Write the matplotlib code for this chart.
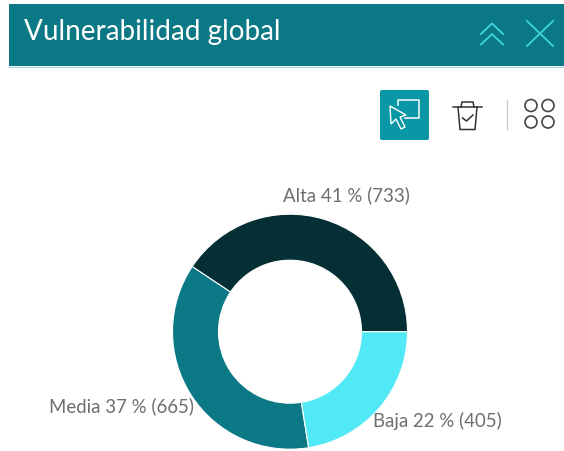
import matplotlib
matplotlib.use("Agg")
import matplotlib.pyplot as plt
from matplotlib.patches import Rectangle, FancyBboxPatch, Circle, Polygon
from matplotlib.lines import Line2D

categories = ["Alta", "Media", "Baja"]
values = [733, 665, 405]
percents = [41, 37, 22]
colors = ["#042F35", "#0A7985", "#52E9F7"]
title = "Vulnerabilidad global"

W, H = 564, 451
plt.rcParams["font.family"] = ["Lato", "DejaVu Sans"]
fig = plt.figure(figsize=(W / 100, H / 100), dpi=100, facecolor="white")

# donut
cx, cy, r = 290, 331.7, 117.5
ax = fig.add_axes([(cx - r) / W, 1 - (cy + r) / H, 2 * r / W, 2 * r / H])
ax.pie(values, colors=colors, startangle=0, counterclock=True, radius=1,
       wedgeprops=dict(width=1 - 71.5 / 117.5, edgecolor="white", linewidth=0.8))
ax.set_xlim(-1, 1)
ax.set_ylim(-1, 1)
ax.set_aspect("equal")

# overlay in pixel coordinates for the panel chrome and labels
bg = fig.add_axes([0, 0, 1, 1])
bg.set_xlim(0, W)
bg.set_ylim(H, 0)
bg.axis("off")
bg.patch.set_alpha(0)

bg.add_patch(Rectangle((9, 4), W - 9, 62, fc="#0A7985", ec="none"))
bg.add_line(Line2D([9, W], [66.5, 66.5], color="#A8D8DC", lw=0.8))
bg.text(23.5, 32, title, color="white", fontsize=20.05, va="center", ha="left")

icon = "#3FD5E0"
for dy in (0, 10.5):
    bg.add_line(Line2D([481, 492, 503], [34 + dy, 23.5 + dy, 34 + dy], color=icon, lw=1.3))
bg.add_line(Line2D([527, 553], [21, 46], color=icon, lw=1.3))
bg.add_line(Line2D([527, 553], [46, 21], color=icon, lw=1.3))

# select button
bg.add_patch(FancyBboxPatch((380, 90), 49, 50, boxstyle="round,pad=0,rounding_size=2",
                            fc="#0A97A5", ec="none"))
bg.add_line(Line2D([398, 398, 419, 419, 405], [105, 100, 100, 118, 118], color="white", lw=1.1))
bg.add_patch(Polygon([[390, 106], [391, 124], [396, 119], [401, 129], [405, 127],
                      [400, 117], [406, 115]], closed=True, fc="#0A97A5", ec="white", lw=1.0))

# clear-selection bin
ink = "#333333"
bg.add_line(Line2D([453, 482], [107, 107], color=ink, lw=1.1))
bg.add_line(Line2D([461, 462, 473, 474], [107, 102, 102, 107], color=ink, lw=1.1))
bg.add_line(Line2D([458, 460, 475, 477], [107, 129.5, 129.5, 107], color=ink, lw=1.1))
bg.add_line(Line2D([462.5, 466.5, 473], [118, 121, 115], color=ink, lw=1.1))

# separator
bg.add_line(Line2D([507, 507], [100, 129], color="#C8C8C8", lw=0.9))

# grid icon
for gx in (531, 548):
    for gy in (105.5, 122):
        bg.add_patch(Circle((gx, gy), 6, fc="none", ec="#444444", lw=1.2))

labels = [f"{c} {p} % ({v})" for c, p, v in zip(categories, percents, values)]
pos = [(346, 195.5), (121.5, 406), (437, 421)]
for lab, (x, y) in zip(labels, pos):
    bg.text(x, y, lab, color="#6E6E6E", fontsize=13.4, ha="center", va="center", zorder=5)

fig.savefig("out.png", dpi=100)
